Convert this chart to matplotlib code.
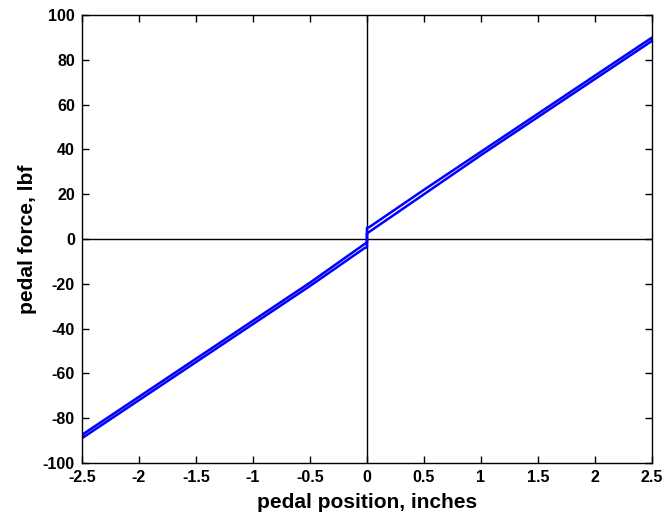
import matplotlib
matplotlib.use("Agg")
import matplotlib.pyplot as plt

# pedal travel, increasing stroke (upper branch) then return (lower branch)
push_pos = [-2.5, -2.0, -1.5, -1.0, -0.5, -0.02, 0.0, 0.0, 0.02, 0.5, 1.0, 1.5, 2.0, 2.5]
push_force = [-87.5, -70.5, -53.5, -36.5, -19.5, -2.2, -1.5, 5.0, 5.3, 22.0, 39.0, 56.0, 73.0, 90.0]
ret_pos = [2.5, 2.0, 1.5, 1.0, 0.5, 0.02, 0.0, 0.0, -0.02, -0.5, -1.0, -1.5, -2.0, -2.5]
ret_force = [88.5, 71.5, 54.5, 37.5, 20.0, 3.2, 2.5, -3.7, -4.0, -21.0, -38.0, -55.0, -72.0, -89.0]

xticks = [-2.5, -2, -1.5, -1, -0.5, 0, 0.5, 1, 1.5, 2, 2.5]
xtick_labels = ["-2.5", "-2", "-1.5", "-1", "-0.5", "0", "0.5", "1", "1.5", "2", "2.5"]
yticks = list(range(-100, 101, 20))

plt.rcParams['font.family'] = ['Liberation Sans', 'DejaVu Sans']
plt.rcParams['font.weight'] = 'bold'
plt.rcParams['axes.unicode_minus'] = False

fig = plt.figure(figsize=(6.66, 5.23), dpi=100)
ax = fig.add_axes([0.123, 0.115, 0.856, 0.856])

ax.axhline(0, color='black', lw=1.0)
ax.axvline(0, color='black', lw=1.0)
ax.plot(push_pos + ret_pos + push_pos[:1], push_force + ret_force + push_force[:1],
        color=(0, 0, 1), lw=1.8)

ax.set_xlim(-2.5, 2.5)
ax.set_ylim(-100, 100)
ax.set_xticks(xticks)
ax.set_xticklabels(xtick_labels)
ax.set_yticks(yticks)
ax.tick_params(direction='in', top=True, right=True, length=5, width=1,
               labelsize=11.5, pad=5)
for lab in ax.get_xticklabels() + ax.get_yticklabels():
    lab.set_fontweight('bold')
for s in ax.spines.values():
    s.set_linewidth(1.0)

ax.set_xlabel('pedal position, inches', fontsize=15, fontweight='bold', labelpad=6)
ax.set_ylabel('pedal force, lbf', fontsize=15, fontweight='bold', labelpad=4)

fig.savefig('out.png', dpi=100)
